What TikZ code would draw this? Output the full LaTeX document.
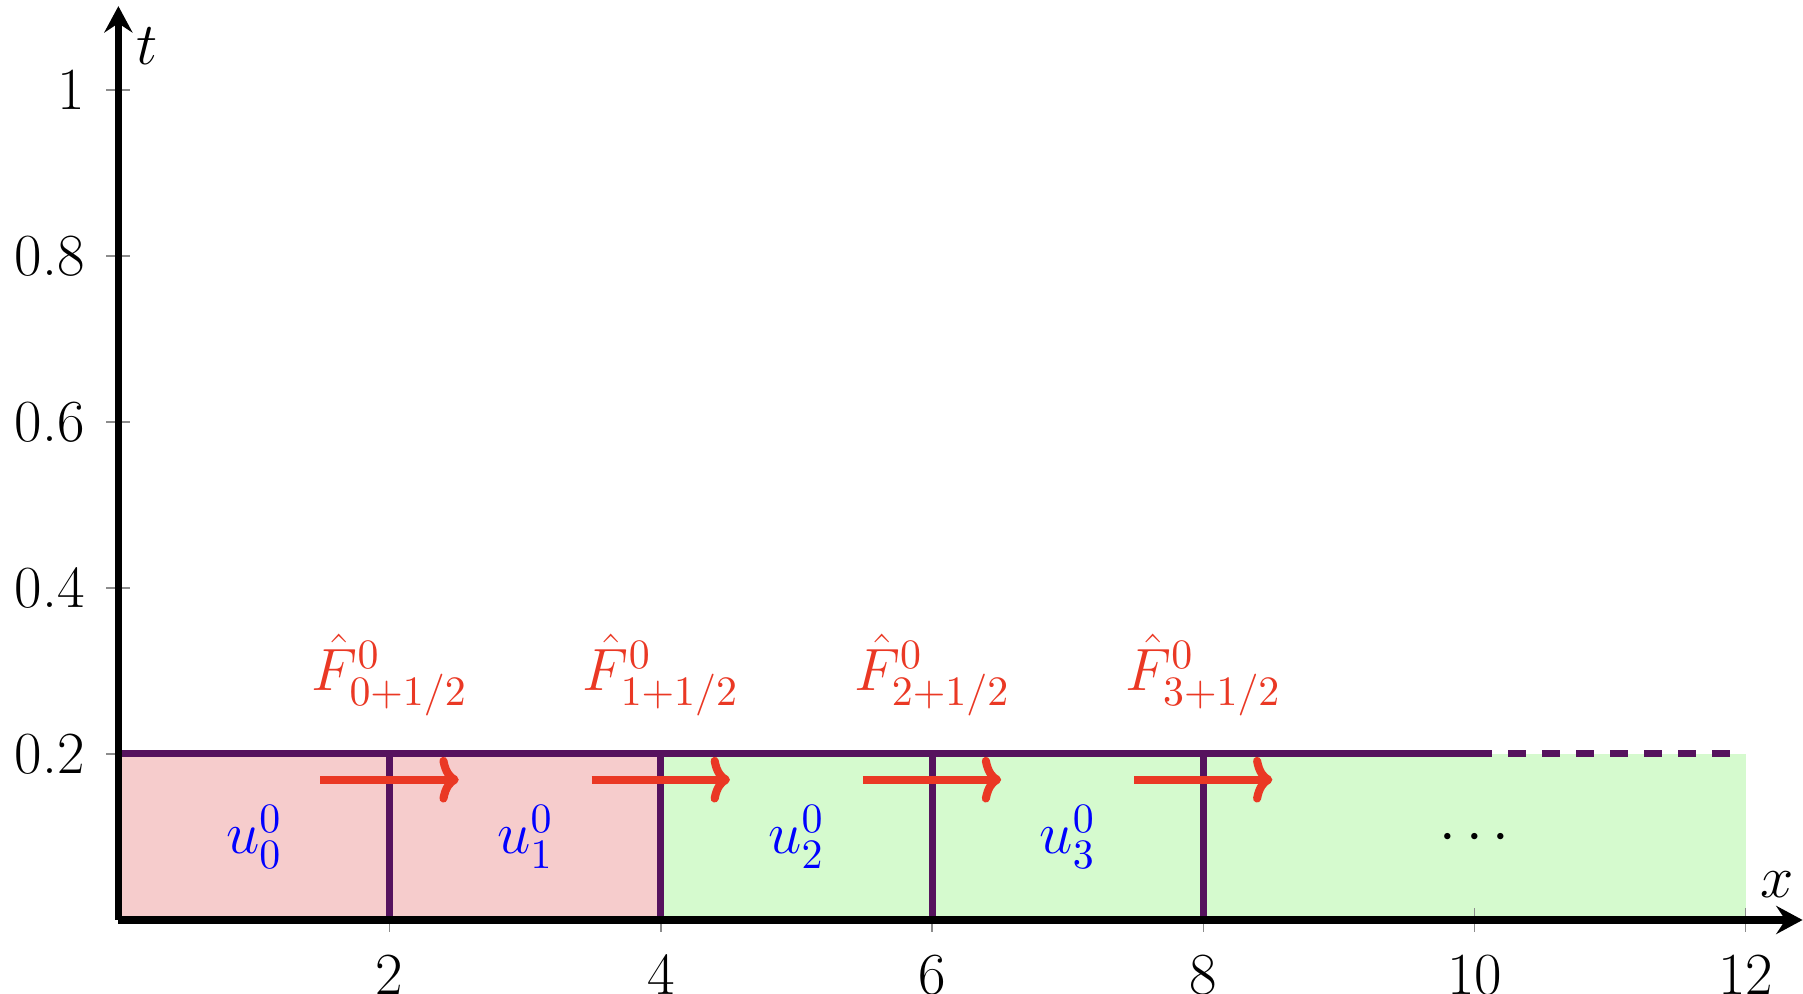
\RequirePackage{fix-cm}
\documentclass[tikz,border=0pt]{standalone}
\usepackage{tikz}
\usetikzlibrary{arrows.meta}
\definecolor{cellpurple}{RGB}{86, 18, 94}
\definecolor{fluxred}{RGB}{234, 56, 36}
\definecolor{cellpink}{RGB}{246, 204, 204}
\definecolor{cellgreen}{RGB}{213, 250, 206}
\definecolor{tickgray}{RGB}{140, 140, 140}

\tikzset{
  axisline/.style={black, line width=2.2pt, -{Stealth[length=7.5pt, width=8pt, inset=2.6pt]}},
  tickmark/.style={tickgray, line width=0.4pt},
  xticklab/.style={anchor=north, inner sep=0pt, yshift=-0.34cm},
  tticklab/.style={anchor=east, inner sep=0pt, xshift=-0.33cm},
  cellwall/.style={cellpurple, line width=2pt},
  fluxarrow/.style={fluxred, line width=2.3pt, -{To[length=5.5pt, width=13pt, round]}},
  fluxlab/.style={text=fluxred},
  celllab/.style={text=blue}
}

\begin{document}
\begin{tikzpicture}[x=1.356cm, y=8.30cm, font=\fontsize{17}{20}\selectfont]
        \useasboundingbox (-0.873,-0.088) rectangle (12.423,1.1084);
        % cells at time level 0
        \fill[cellpink] (0,0) rectangle (4,0.2);
        \fill[cellgreen] (4,0) rectangle (12,0.2);
        % ticks
        \draw[tickmark] (2,0) ++(0,-0.12cm) -- ++(0,0.24cm);
        \draw[tickmark] (4,0) ++(0,-0.12cm) -- ++(0,0.24cm);
        \draw[tickmark] (6,0) ++(0,-0.12cm) -- ++(0,0.24cm);
        \draw[tickmark] (8,0) ++(0,-0.12cm) -- ++(0,0.24cm);
        \draw[tickmark] (10,0) ++(0,-0.12cm) -- ++(0,0.24cm);
        \draw[tickmark] (12,0) ++(0,-0.12cm) -- ++(0,0.24cm);
        \draw[tickmark] (0,0.2) ++(-0.12cm,0) -- ++(0.24cm,0);
        \draw[tickmark] (0,0.4) ++(-0.12cm,0) -- ++(0.24cm,0);
        \draw[tickmark] (0,0.6) ++(-0.12cm,0) -- ++(0.24cm,0);
        \draw[tickmark] (0,0.8) ++(-0.12cm,0) -- ++(0.24cm,0);
        \draw[tickmark] (0,1) ++(-0.12cm,0) -- ++(0.24cm,0);
        % cell walls
        \draw[cellwall] (0,0.2) -- (10.13,0.2);
        \draw[cellwall, dash pattern=on 0.18cm off 0.16cm] (10.25,0.2) -- (11.89,0.2);
        \draw[cellwall] (2,0) -- (2,0.2);
        \draw[cellwall] (4,0) -- (4,0.2);
        \draw[cellwall] (6,0) -- (6,0.2);
        \draw[cellwall] (8,0) -- (8,0.2);
        % axes
        \coordinate (origin) at (0,0);
        \coordinate (xend) at (12.42,0);
        \coordinate (tend) at (0,1.101);
        \draw[axisline] (origin) -- (xend);
        \draw[axisline] (origin) -- (tend);
        \node (xlab) at (12.23,0.042) {$x$};
        \node (tlab) at (0.21,1.053) {$t$};
        % tick labels
        \node[xticklab] (x2) at (2,0) {2};
        \node[xticklab] (x4) at (4,0) {4};
        \node[xticklab] (x6) at (6,0) {6};
        \node[xticklab] (x8) at (8,0) {8};
        \node[xticklab] (x10) at (10,0) {10};
        \node[xticklab] (x12) at (12,0) {12};
        \node[tticklab] (t02) at (0,0.2) {0.2};
        \node[tticklab] (t04) at (0,0.4) {0.4};
        \node[tticklab] (t06) at (0,0.6) {0.6};
        \node[tticklab] (t08) at (0,0.8) {0.8};
        \node[tticklab] (t10) at (0,1) {1};
        % cell averages
        \node[celllab] (u0) at (1,0.1) {$u_0^0$};
        \node[celllab] (u1) at (3,0.1) {$u_1^0$};
        \node[celllab] (u2) at (5,0.1) {$u_2^0$};
        \node[celllab] (u3) at (7,0.1) {$u_3^0$};
        \node (dots) at (10,0.098) {$\cdots$};
        % fluxes
        \coordinate (f0a) at (1.49,0.169);
        \coordinate (f0b) at (2.51,0.169);
        \coordinate (f1a) at (3.49,0.169);
        \coordinate (f1b) at (4.51,0.169);
        \coordinate (f2a) at (5.49,0.169);
        \coordinate (f2b) at (6.51,0.169);
        \coordinate (f3a) at (7.49,0.169);
        \coordinate (f3b) at (8.51,0.169);
        \draw[fluxarrow] (f0a) -- (f0b);
        \draw[fluxarrow] (f1a) -- (f1b);
        \draw[fluxarrow] (f2a) -- (f2b);
        \draw[fluxarrow] (f3a) -- (f3b);
        \node[fluxlab] (F0) at (2,0.295) {$\hat{F}^0_{0+1/2}$};
        \node[fluxlab] (F1) at (4,0.295) {$\hat{F}^0_{1+1/2}$};
        \node[fluxlab] (F2) at (6,0.295) {$\hat{F}^0_{2+1/2}$};
        \node[fluxlab] (F3) at (8,0.295) {$\hat{F}^0_{3+1/2}$};
      \end{tikzpicture}
\end{document}
